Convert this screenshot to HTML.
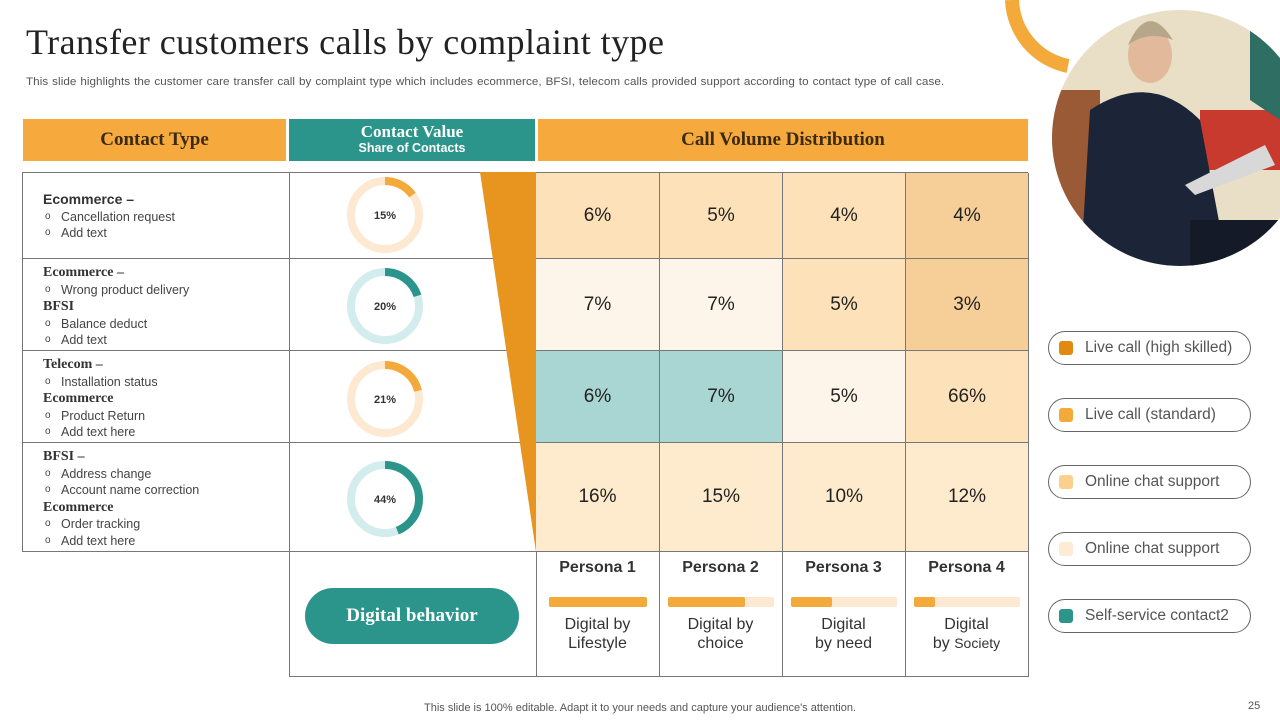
<!DOCTYPE html>
<html><head><meta charset="utf-8"><style>
body{margin:0;width:1280px;height:720px;background:#fff;position:relative;overflow:hidden;font-family:"Liberation Sans",sans-serif;color:#333}
.a{position:absolute}
.h{position:absolute;top:119px;height:42px;display:flex;align-items:center;justify-content:center;flex-direction:column;font-family:"Liberation Serif",serif;font-weight:bold;color:#3a2a10;font-size:19px}
.cell{position:absolute;display:flex;align-items:center;justify-content:center;font-size:19px;color:#222;border-right:1px solid #777;border-bottom:1px solid #777;box-sizing:border-box}
.lt{position:absolute;left:43px;font-size:12.5px;line-height:16.5px;color:#444}
.lt b{font-family:"Liberation Serif",serif;font-size:14px;color:#333}
.lt b.s{font-family:"Liberation Sans",sans-serif;font-size:14px}
.lt .i{padding-left:18px;position:relative}
.lt .i:before{content:"o";position:absolute;left:2px;top:0;font-size:10px}
.leg{position:absolute;left:1048px;width:203px;height:34px;border:1.5px solid #666;border-radius:17px;box-sizing:border-box;font-size:15.5px;color:#555;display:flex;align-items:center}
.leg i{width:14px;height:14px;border-radius:3px;margin:0 12px 0 10px;display:inline-block}
.p{position:absolute;top:552px;width:123px;text-align:center;font-size:16px;color:#333}
</style></head><body>
<div class="a" style="left:26px;top:21px;font-family:'Liberation Serif',serif;font-size:36px;letter-spacing:0.45px;color:#222">Transfer customers calls by complaint type</div>
<div class="a" style="left:26px;top:76px;font-size:11px;letter-spacing:0.05px;word-spacing:0.6px;color:#555;transform:scaleX(1.06);transform-origin:left">This slide highlights the customer care transfer call by complaint type which includes ecommerce, BFSI, telecom calls provided support according to contact type of call case.</div>

<svg class="a" style="left:0;top:0" width="1280" height="280">
<defs><clipPath id="c"><circle cx="1180" cy="138" r="128"/></clipPath></defs>
<path d="M1012 0 A70 70 0 0 0 1068 66" fill="none" stroke="#f4a93b" stroke-width="14"/>
<g clip-path="url(#c)">
<rect x="1040" y="0" width="240" height="280" fill="#e9dfc6"/>
<rect x="1040" y="90" width="60" height="190" fill="#9a5a35"/>
<rect x="1200" y="110" width="80" height="60" fill="#c83a2e"/>
<path d="M1250 30 l30 -10 v100 l-30 -20z" fill="#2f6e62"/>
<path d="M1090 110 q60 -40 110 10 l30 160 h-150z" fill="#1c2538"/>
<ellipse cx="1150" cy="55" rx="22" ry="28" fill="#e3b99c"/>
<path d="M1128 45 q20 -45 45 -5 q-25 -10 -45 5z" fill="#b7a78a"/>
<path d="M1185 185 l80 -40 l10 20 l-80 30z" fill="#d8d8d8"/>
<rect x="1190" y="220" width="90" height="60" fill="#141a28"/>
</g></svg>

<div class="h" style="left:23px;width:263px;background:#f6aa3d">Contact Type</div>
<div class="h" style="left:289px;width:246px;background:#2b958b;color:#fff;font-size:17px;line-height:17px">Contact Value<span style="font-family:'Liberation Sans',sans-serif;font-size:12.5px">Share of Contacts</span></div>
<div class="h" style="left:538px;width:490px;background:#f6aa3d">Call Volume Distribution</div>

<div class="a" style="left:22px;top:172px;width:514px;height:380px;border-top:1px solid #777;border-left:1px solid #777;box-sizing:border-box"></div>
<div class="a" style="left:289px;top:172px;width:1px;height:505px;background:#777"></div>
<div class="a" style="left:22px;top:258px;width:514px;height:1px;background:#777"></div>
<div class="a" style="left:22px;top:350px;width:514px;height:1px;background:#777"></div>
<div class="a" style="left:22px;top:442px;width:514px;height:1px;background:#777"></div>
<div class="a" style="left:22px;top:551px;width:1006px;height:1px;background:#777"></div>
<div class="a" style="left:289px;top:676px;width:739px;height:1px;background:#777"></div>
<svg class="a" style="left:0;top:0" width="560" height="560"><polygon points="480,172 536,172 536,552" fill="#e8951f"/>
<g fill="none" stroke-width="8">
<circle cx="385" cy="215" r="34" stroke="#fde9d2"/><circle cx="385" cy="215" r="34" stroke="#f4a93b" stroke-dasharray="32 300" transform="rotate(-90 385 215)"/>
<circle cx="385" cy="306" r="34" stroke="#d3ecee"/><circle cx="385" cy="306" r="34" stroke="#2b958b" stroke-dasharray="43 300" transform="rotate(-90 385 306)"/>
<circle cx="385" cy="399" r="34" stroke="#fde9d2"/><circle cx="385" cy="399" r="34" stroke="#f4a93b" stroke-dasharray="45 300" transform="rotate(-90 385 399)"/>
<circle cx="385" cy="499" r="34" stroke="#d3ecee"/><circle cx="385" cy="499" r="34" stroke="#2b958b" stroke-dasharray="94 300" transform="rotate(-90 385 499)"/>
</g>
<g font-family="Liberation Sans" font-size="11" font-weight="bold" fill="#333" text-anchor="middle">
<text x="385" y="219">15%</text><text x="385" y="310">20%</text><text x="385" y="403">21%</text><text x="385" y="503">44%</text></g></svg>

<div class="lt" style="top:191px"><b class="s">Ecommerce –</b><div class="i">Cancellation request</div><div class="i">Add text</div></div>
<div class="lt" style="top:264px"><b>Ecommerce –</b><div class="i">Wrong product delivery</div><b>BFSI</b><div class="i">Balance deduct</div><div class="i">Add text</div></div>
<div class="lt" style="top:356px"><b>Telecom –</b><div class="i">Installation status</div><b>Ecommerce</b><div class="i">Product Return</div><div class="i">Add text here</div></div>
<div class="lt" style="top:448px"><b>BFSI –</b><div class="i">Address change</div><div class="i">Account name correction</div><b>Ecommerce</b><div class="i">Order tracking</div><div class="i">Add text here</div></div>

<div class="a" style="left:536px;top:172px;width:492px;height:1px;background:#777"></div>
<div class="cell" style="left:536px;top:173px;width:124px;height:86px;background:#fde1b8">6%</div>
<div class="cell" style="left:660px;top:173px;width:123px;height:86px;background:#fde1b8">5%</div>
<div class="cell" style="left:783px;top:173px;width:123px;height:86px;background:#fde1b8">4%</div>
<div class="cell" style="left:906px;top:173px;width:123px;height:86px;background:#f6cf98">4%</div>
<div class="cell" style="left:536px;top:259px;width:124px;height:92px;background:#fef5ea">7%</div>
<div class="cell" style="left:660px;top:259px;width:123px;height:92px;background:#fef5ea">7%</div>
<div class="cell" style="left:783px;top:259px;width:123px;height:92px;background:#fde1b8">5%</div>
<div class="cell" style="left:906px;top:259px;width:123px;height:92px;background:#f6cf98">3%</div>
<div class="cell" style="left:536px;top:351px;width:124px;height:92px;background:#a9d5d2">6%</div>
<div class="cell" style="left:660px;top:351px;width:123px;height:92px;background:#a9d5d2">7%</div>
<div class="cell" style="left:783px;top:351px;width:123px;height:92px;background:#fef5ea">5%</div>
<div class="cell" style="left:906px;top:351px;width:123px;height:92px;background:#fde1b8">66%</div>
<div class="cell" style="left:536px;top:443px;width:124px;height:109px;background:#feeacc">16%</div>
<div class="cell" style="left:660px;top:443px;width:123px;height:109px;background:#feeacc">15%</div>
<div class="cell" style="left:783px;top:443px;width:123px;height:109px;background:#feeacc">10%</div>
<div class="cell" style="left:906px;top:443px;width:123px;height:109px;background:#feeacc">12%</div>
<div class="a" style="left:536px;top:552px;width:1px;height:125px;background:#777"></div>
<div class="a" style="left:659px;top:552px;width:1px;height:125px;background:#777"></div>
<div class="a" style="left:782px;top:552px;width:1px;height:125px;background:#777"></div>
<div class="a" style="left:905px;top:552px;width:1px;height:125px;background:#777"></div>
<div class="a" style="left:1028px;top:552px;width:1px;height:125px;background:#777"></div>

<div class="a" style="left:305px;top:588px;width:214px;height:56px;border-radius:28px;background:#2b958b;color:#fff;font-family:'Liberation Serif',serif;font-weight:bold;font-size:19px;display:flex;align-items:center;justify-content:center">Digital behavior</div>

<div class="p" style="left:536px"><div style="margin-top:7px;font-weight:bold">Persona 1</div><div style="margin:20px auto 0;width:98px;height:10px;background:#fde9d2;border-radius:2px"><div style="width:100%;height:100%;background:#f4a93b;border-radius:2px"></div></div><div style="margin-top:8px;line-height:19px">Digital by<br>Lifestyle</div></div>
<div class="p" style="left:659px"><div style="margin-top:7px;font-weight:bold">Persona 2</div><div style="margin:20px auto 0;width:106px;height:10px;background:#fde9d2;border-radius:2px"><div style="width:73%;height:100%;background:#f4a93b;border-radius:2px"></div></div><div style="margin-top:8px;line-height:19px">Digital by<br>choice</div></div>
<div class="p" style="left:782px"><div style="margin-top:7px;font-weight:bold">Persona 3</div><div style="margin:20px auto 0;width:106px;height:10px;background:#fde9d2;border-radius:2px"><div style="width:39%;height:100%;background:#f4a93b;border-radius:2px"></div></div><div style="margin-top:8px;line-height:19px">Digital<br>by need</div></div>
<div class="p" style="left:905px"><div style="margin-top:7px;font-weight:bold">Persona 4</div><div style="margin:20px auto 0;width:106px;height:10px;background:#fde9d2;border-radius:2px"><div style="width:20%;height:100%;background:#f4a93b;border-radius:2px"></div></div><div style="margin-top:8px;line-height:19px">Digital<br>by <span style="font-size:14px">Society</span></div></div>

<div class="leg" style="top:331px"><i style="background:#e08a12"></i>Live call (high skilled)</div>
<div class="leg" style="top:398px"><i style="background:#f4a93b"></i>Live call (standard)</div>
<div class="leg" style="top:465px"><i style="background:#fbd08d"></i>Online chat support</div>
<div class="leg" style="top:532px"><i style="background:#fdebd3"></i>Online chat support</div>
<div class="leg" style="top:599px"><i style="background:#2b958b"></i>Self-service contact2</div>

<div class="a" style="left:0;width:1280px;top:702px;text-align:center;font-size:11px;color:#555">This slide is 100% editable. Adapt it to your needs and capture your audience's attention.</div>
<div class="a" style="left:1248px;top:700px;font-size:11px;color:#555">25</div>
</body></html>
